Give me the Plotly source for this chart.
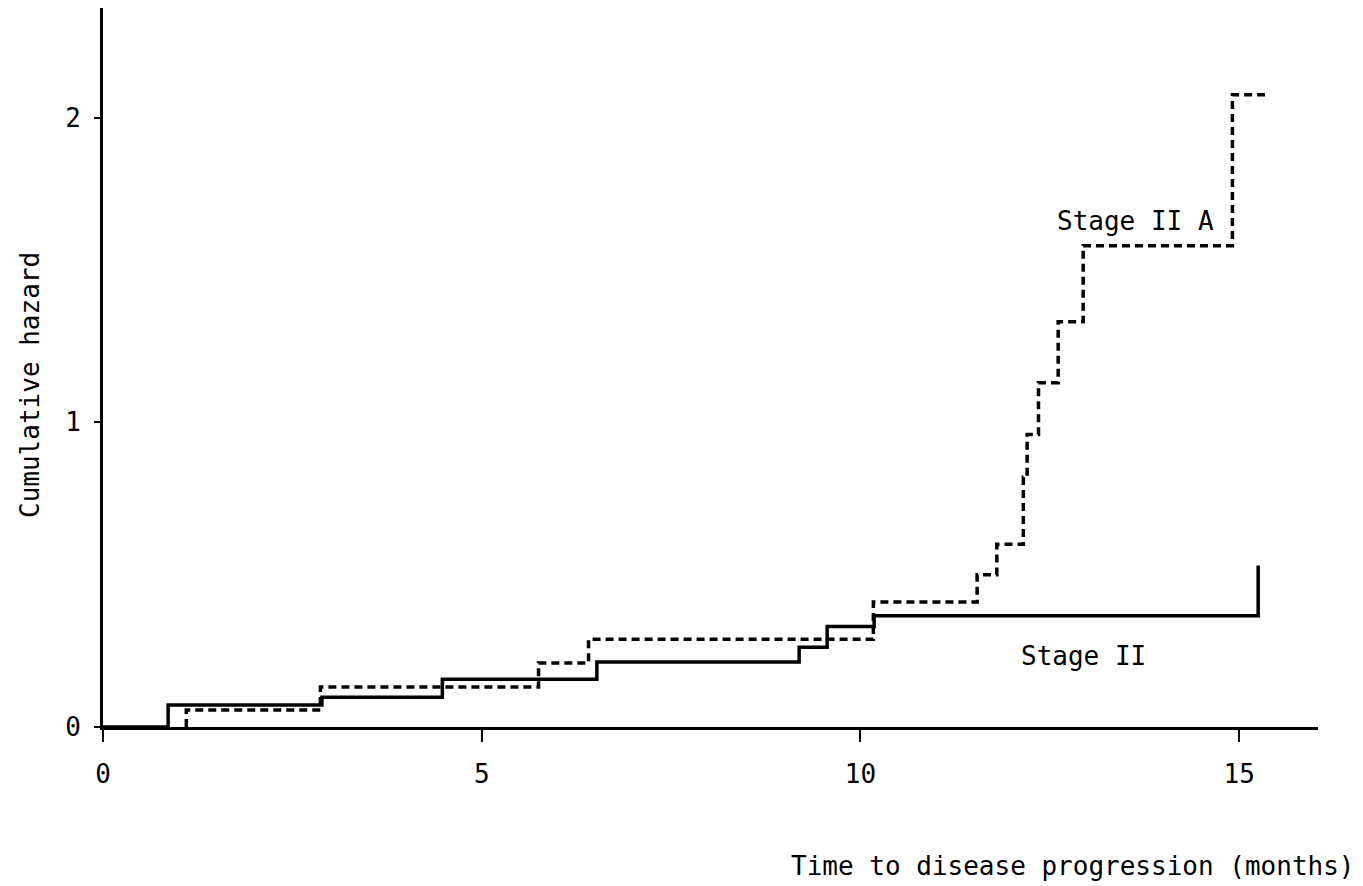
import plotly.graph_objects as go

# Stage II (solid) cumulative hazard steps: time of jump, level after jump
stage2_t = [0, 0.86, 2.89, 4.48, 6.52, 9.19, 9.56, 10.18, 15.25, 15.25]
stage2_h = [0, 0.072, 0.098, 0.157, 0.213, 0.262, 0.33, 0.365, 0.365, 0.53]

# Stage II A (dashed)
stage2a_t = [1.10, 1.10, 2.87, 5.75, 6.41, 10.17, 11.54, 11.80, 12.15, 12.20,
             12.35, 12.61, 12.94, 14.91, 15.34]
stage2a_h = [0, 0.056, 0.131, 0.21, 0.288, 0.41, 0.50, 0.60, 0.82, 0.96,
             1.13, 1.33, 1.58, 2.075, 2.075]

x_ticks = [0, 5, 10, 15]
y_ticks = [0, 1, 2]

FONT = "DejaVu Sans Mono"

fig = go.Figure()
fig.add_trace(go.Scatter(x=stage2_t, y=stage2_h, mode="lines", line_shape="hv",
                         line=dict(color="black", width=3.5), name="Stage II"))
fig.add_trace(go.Scatter(x=stage2a_t, y=stage2a_h, mode="lines", line_shape="hv",
                         line=dict(color="black", width=3.5, dash="8px,5px"),
                         name="Stage II A"))

fig.add_annotation(x=13.63, y=1.66, text="Stage II A", showarrow=False,
                   font=dict(family=FONT, size=26, color="black"))
fig.add_annotation(x=12.95, y=0.233, text="Stage II", showarrow=False,
                   font=dict(family=FONT, size=26, color="black"))

fig.add_annotation(xref="paper", yref="paper", x=(1357 - 103) / 1215, y=-(866 - 727) / 719,
                   xanchor="right", yanchor="middle", showarrow=False,
                   text="Time to disease progression (months)",
                   font=dict(family=FONT, size=26, color="black"))
fig.add_annotation(xref="paper", yref="paper", x=-(103 - 30) / 1215, y=(727 - 385) / 719,
                   xanchor="center", yanchor="middle", showarrow=False, textangle=-90,
                   text="Cumulative hazard",
                   font=dict(family=FONT, size=26, color="black"))

fig.update_layout(
    width=1363, height=886,
    margin=dict(l=103, r=45, t=8, b=159),
    paper_bgcolor="white", plot_bgcolor="white",
    showlegend=False,
    xaxis=dict(range=[0, 16.04], tickvals=x_ticks, ticktext=[str(v) for v in x_ticks],
               showline=True, linecolor="black", linewidth=3, showgrid=False, zeroline=False,
               ticks="outside", ticklen=12, tickwidth=2, tickcolor="black",
               ticklabelstandoff=10,
               tickfont=dict(family=FONT, size=26, color="black")),
    yaxis=dict(range=[0, 2.36], tickvals=y_ticks, ticktext=[str(v) for v in y_ticks],
               showline=True, linecolor="black", linewidth=3, showgrid=False, zeroline=False,
               ticks="outside", ticklen=6, tickwidth=2, tickcolor="black",
               ticklabelstandoff=8,
               tickfont=dict(family=FONT, size=26, color="black")),
)

fig.write_html("out.html")
